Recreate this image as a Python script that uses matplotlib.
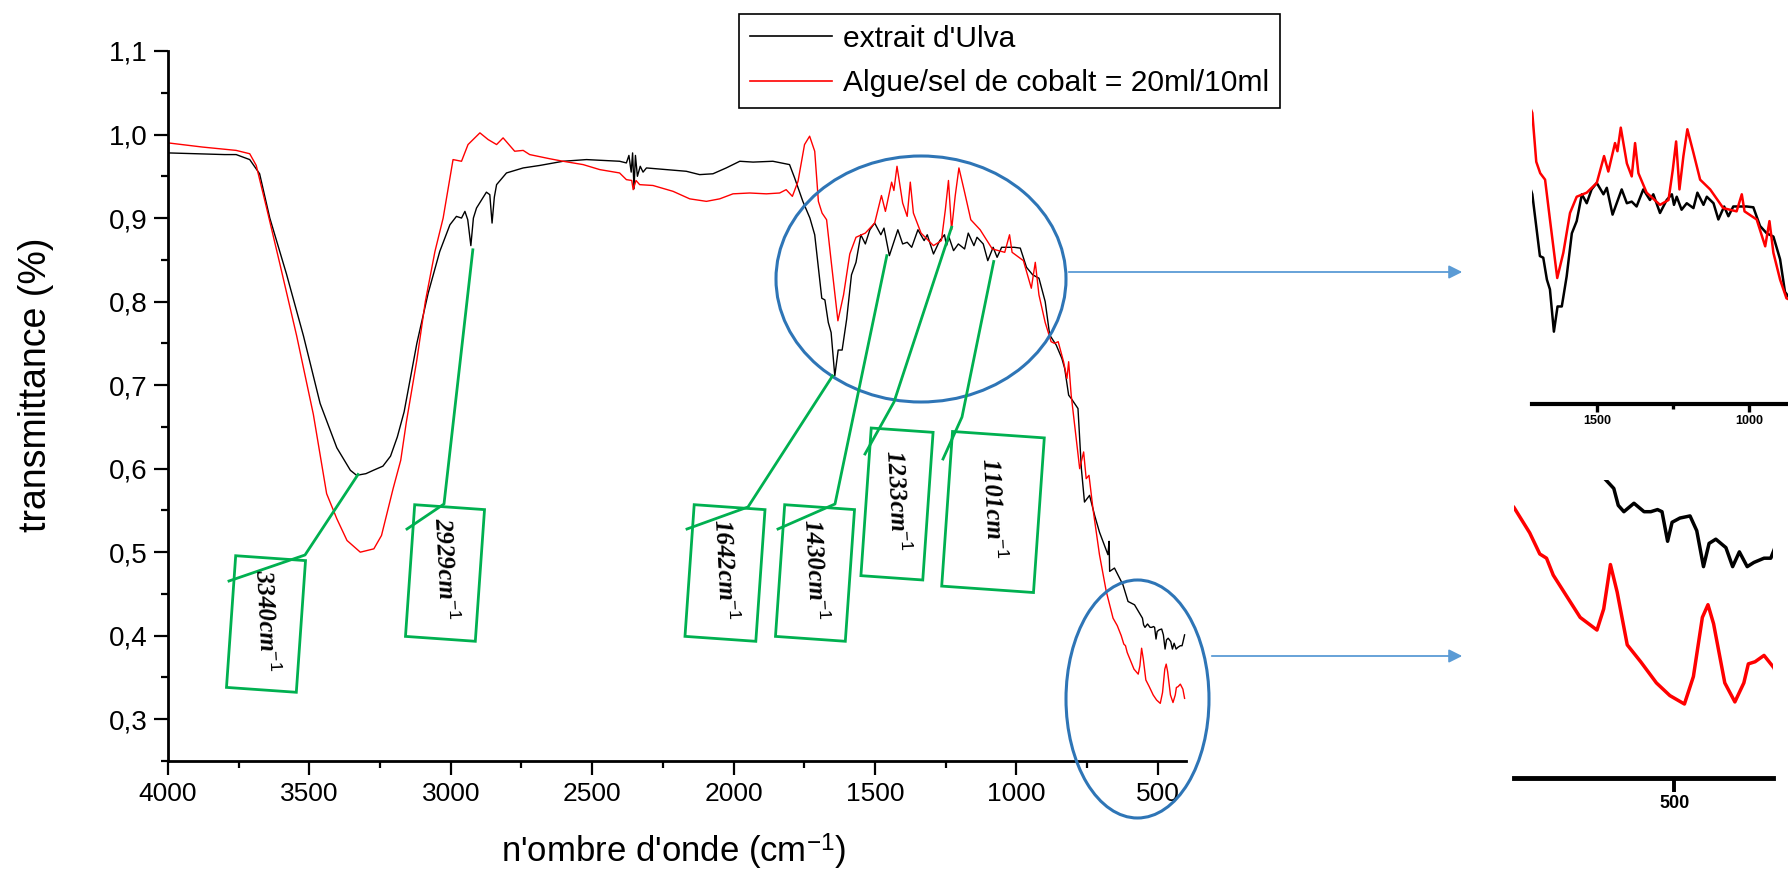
import numpy as np
import matplotlib
matplotlib.use('Agg')
import matplotlib.pyplot as plt
from matplotlib.patches import Rectangle, Ellipse, FancyArrowPatch
from matplotlib.lines import Line2D
from matplotlib.ticker import MultipleLocator, FixedLocator

plt.rcParams['font.family'] = ['Liberation Sans', 'DejaVu Sans']
plt.rcParams['mathtext.fontset'] = 'custom'
plt.rcParams['mathtext.rm'] = 'Liberation Sans'
plt.rcParams['mathtext.it'] = 'Liberation Serif:italic:bold'
plt.rcParams['mathtext.bf'] = 'Liberation Serif:italic:bold'

# extrait d'Ulva (black)
ulva_x = [4000, 3900, 3800, 3759, 3711, 3676, 3640, 3581, 3521, 3462, 3403, 3355, 3333, 3300,
          3274, 3240, 3213, 3189, 3165, 3120, 3080, 3039, 3003, 2980, 2962, 2950, 2940, 2929,
          2920, 2909, 2874, 2862, 2854, 2846, 2838, 2803, 2744, 2685, 2603, 2520, 2403, 2379,
          2370, 2362, 2357, 2352, 2347, 2340, 2330, 2320, 2308, 2238, 2167, 2120, 2073, 2026,
          1978, 1931, 1861, 1802, 1784, 1755, 1730, 1713, 1699, 1688, 1677, 1665, 1655, 1642,
          1630, 1616, 1600, 1583, 1567, 1550, 1534, 1518, 1501, 1479, 1468, 1449, 1419, 1402,
          1386, 1370, 1348, 1326, 1315, 1293, 1271, 1254, 1247, 1238, 1222, 1205, 1183, 1170,
          1150, 1139, 1117, 1101, 1082, 1068, 1052, 1030, 1008, 986, 964, 942, 920, 898, 882,
          859, 839, 829, 815, 806, 790, 782, 770, 759, 741, 723, 706, 676, 672, 670, 653, 623,
          605, 582, 554, 550, 545, 536, 527, 521, 515, 511, 506, 502, 495, 486, 480, 474, 469,
          463, 454, 448, 442, 435, 429, 420, 414, 411, 405]
ulva_y = [0.978, 0.977, 0.976, 0.976, 0.970, 0.953, 0.900, 0.833, 0.759, 0.678, 0.625, 0.598,
          0.592, 0.594, 0.598, 0.603, 0.615, 0.638, 0.668, 0.750, 0.810, 0.860, 0.892, 0.902,
          0.900, 0.908, 0.898, 0.867, 0.900, 0.912, 0.931, 0.928, 0.894, 0.925, 0.940, 0.954,
          0.960, 0.963, 0.968, 0.970, 0.968, 0.966, 0.975, 0.955, 0.978, 0.935, 0.975, 0.950,
          0.962, 0.955, 0.960, 0.958, 0.956, 0.952, 0.953, 0.960, 0.968, 0.967, 0.968, 0.964,
          0.948, 0.920, 0.900, 0.880, 0.837, 0.804, 0.802, 0.775, 0.763, 0.711, 0.742, 0.742,
          0.779, 0.832, 0.847, 0.880, 0.869, 0.886, 0.894, 0.880, 0.888, 0.855, 0.886, 0.869,
          0.871, 0.865, 0.886, 0.873, 0.880, 0.857, 0.873, 0.880, 0.867, 0.877, 0.861, 0.869,
          0.863, 0.882, 0.867, 0.877, 0.869, 0.849, 0.865, 0.853, 0.865, 0.865, 0.865, 0.864,
          0.841, 0.832, 0.828, 0.800, 0.760, 0.748, 0.732, 0.720, 0.688, 0.684, 0.676, 0.672,
          0.600, 0.560, 0.568, 0.544, 0.524, 0.497, 0.513, 0.477, 0.481, 0.461, 0.441, 0.437,
          0.421, 0.413, 0.410, 0.414, 0.410, 0.410, 0.411, 0.410, 0.396, 0.405, 0.407, 0.408,
          0.401, 0.384, 0.395, 0.397, 0.393, 0.384, 0.391, 0.384, 0.386, 0.388, 0.388, 0.392,
          0.401]

# Algue/sel de cobalt = 20ml/10ml (red)
cobalt_x = [4000, 3878, 3759, 3711, 3688, 3652, 3605, 3545, 3486, 3439, 3403, 3367, 3320, 3272,
            3245, 3204, 3177, 3157, 3120, 3090, 3056, 3027, 2992, 2962, 2939, 2897, 2868, 2838,
            2815, 2774, 2744, 2721, 2650, 2603, 2532, 2473, 2403, 2379, 2360, 2355, 2345, 2332,
            2285, 2214, 2155, 2096, 2049, 2002, 1943, 1884, 1837, 1814, 1792, 1772, 1749, 1731,
            1713, 1700, 1687, 1671, 1655, 1631, 1611, 1589, 1567, 1534, 1501, 1477, 1463, 1441,
            1433, 1422, 1402, 1386, 1375, 1364, 1337, 1293, 1265, 1251, 1240, 1229, 1216, 1203,
            1183, 1161, 1128, 1085, 1041, 1024, 1015, 975, 947, 933, 920, 898, 877, 865, 852,
            833, 821, 815, 806, 776, 762, 753, 743, 729, 706, 682, 658, 643, 629, 620, 614, 608,
            596, 584, 569, 563, 557, 551, 542, 530, 516, 504, 491, 483, 475, 470, 465, 455, 446,
            438, 434, 428, 420, 411, 405]
cobalt_y = [0.990, 0.985, 0.981, 0.977, 0.963, 0.913, 0.846, 0.759, 0.665, 0.570, 0.540, 0.514,
            0.500, 0.504, 0.520, 0.576, 0.610, 0.656, 0.730, 0.800, 0.860, 0.900, 0.970, 0.968,
            0.988, 1.002, 0.994, 0.988, 0.996, 0.980, 0.981, 0.976, 0.971, 0.968, 0.964, 0.958,
            0.954, 0.946, 0.945, 0.934, 0.945, 0.940, 0.939, 0.932, 0.923, 0.920, 0.923, 0.929,
            0.930, 0.929, 0.930, 0.934, 0.926, 0.944, 0.988, 0.998, 0.980, 0.920, 0.906, 0.898,
            0.849, 0.777, 0.808, 0.857, 0.877, 0.882, 0.894, 0.927, 0.908, 0.943, 0.933, 0.962,
            0.918, 0.902, 0.943, 0.906, 0.882, 0.867, 0.873, 0.910, 0.945, 0.886, 0.927, 0.960,
            0.931, 0.898, 0.886, 0.863, 0.859, 0.880, 0.859, 0.849, 0.816, 0.847, 0.808, 0.775,
            0.752, 0.750, 0.752, 0.728, 0.708, 0.728, 0.688, 0.600, 0.620, 0.588, 0.592, 0.552,
            0.497, 0.453, 0.421, 0.412, 0.400, 0.390, 0.388, 0.380, 0.370, 0.360, 0.354, 0.364,
            0.385, 0.372, 0.347, 0.339, 0.329, 0.323, 0.319, 0.332, 0.360, 0.366, 0.357, 0.329,
            0.320, 0.329, 0.338, 0.339, 0.342, 0.336, 0.325]

series_labels = ["extrait d'Ulva", "Algue/sel de cobalt = 20ml/10ml"]

y_ticks = [0.3, 0.4, 0.5, 0.6, 0.7, 0.8, 0.9, 1.0, 1.1]
y_tick_labels = ['0,3', '0,4', '0,5', '0,6', '0,7', '0,8', '0,9', '1,0', '1,1']
x_ticks = [4000, 3500, 3000, 2500, 2000, 1500, 1000, 500]

# band labels and the point each leader line points to
band_labels = ['3340', '2929', '1642', '1430', '1233', '1101']
band_tips = [(3328, 0.593), (2922, 0.862), (1650, 0.711), (1458, 0.855), (1229, 0.889), (1080, 0.848)]

# layout of the hand-drawn annotations (figure pixels, y down)
box_centers = [(266, 624), (445, 573), (725, 573), (815, 573), (897, 504), (993, 512)]
box_sizes = [(70, 132), (70, 132), (71, 132), (70, 132), (62, 148), (92, 155)]
leader_starts = [((229, 581), (305, 555)), ((407, 529), (444, 504)), ((687, 529), (748, 507)),
                 ((778, 529), (835, 504)), ((865, 454), (894, 402)), ((943, 459), (962, 417))]

W, H = 1788, 875
fig = plt.figure(figsize=(W / 100, H / 100), dpi=100)

ax = fig.add_axes([168 / W, 1 - 761 / H, (1186 - 168) / W, (761 - 51) / H])
ax.plot(ulva_x, ulva_y, color='black', lw=1.0)
ax.plot(cobalt_x, cobalt_y, color='red', lw=1.0)
ax.set_xlim(4000, 400)
ax.set_ylim(0.25, 1.1)
ax.spines['top'].set_visible(False)
ax.spines['right'].set_visible(False)
for s in ['left', 'bottom']:
    ax.spines[s].set_linewidth(2)
ax.xaxis.set_major_locator(FixedLocator(x_ticks))
ax.xaxis.set_minor_locator(MultipleLocator(250))
ax.yaxis.set_major_locator(FixedLocator(y_ticks))
ax.yaxis.set_minor_locator(MultipleLocator(0.05))
ax.set_yticklabels(y_tick_labels)
ax.tick_params(which='major', direction='out', length=10, width=1.6, pad=5)
ax.tick_params(axis='x', which='major', labelsize=19)
ax.tick_params(axis='y', which='major', labelsize=20)
ax.tick_params(which='minor', direction='out', length=5, width=1.6)
ax.set_xlabel("n'ombre d'onde (cm$^{-1}$)", fontsize=25)
ax.set_ylabel('transmittance (%)', fontsize=27)
ax.xaxis.set_label_coords(0.497, -0.1)
ax.yaxis.set_label_coords(-0.112, 0.53)

handles = [Line2D([], [], color='black', lw=1.2), Line2D([], [], color='red', lw=1.2)]
leg = fig.legend(handles, series_labels, loc='upper left', bbox_to_anchor=(739 / W, 1 - 14 / H),
                 bbox_transform=fig.transFigure, fontsize=21.6, frameon=True, fancybox=False,
                 edgecolor='black', framealpha=1, handlelength=2.75, handletextpad=0.35,
                 borderpad=0.36, labelspacing=0.55, borderaxespad=0)
leg.get_frame().set_linewidth(1.2)

# overlay in figure pixels
ov = fig.add_axes([0, 0, 1, 1])
ov.set_xlim(0, W)
ov.set_ylim(H, 0)
ov.axis('off')

green = '#00B050'
for lab, tip, c, sz, st in zip(band_labels, band_tips, box_centers, box_sizes, leader_starts):
    px, py = ax.transData.transform(tip)
    tip_px = (px, H - py)
    ov.plot([st[0][0], st[1][0], tip_px[0]], [st[0][1], st[1][1], tip_px[1]], color=green, lw=2)
    ov.add_patch(Rectangle((c[0] - sz[0] / 2, c[1] - sz[1] / 2), sz[0], sz[1], angle=4,
                           rotation_point='center', fill=False, ec=green, lw=2))
    ov.text(c[0], c[1] - 4, lab + 'cm$^{\\mathit{-1}}$', rotation=-87, ha='center', va='center',
            family='Liberation Serif', style='italic', weight='bold', fontsize=18,
            rotation_mode='anchor')

blue = '#2E75B6'
ov.add_patch(Ellipse((921, 279), 290, 246, fill=False, ec=blue, lw=2.2))
ov.add_patch(Ellipse((1137.5, 699), 143, 238, fill=False, ec=blue, lw=2.2))
for y0, x0 in [(272, 1066), (656, 1209)]:
    ov.add_patch(FancyArrowPatch((x0, y0), (1465, y0), arrowstyle='-|>', mutation_scale=20,
                                 color='#5B9BD5', lw=1.3))

# zoomed insets
ax1 = fig.add_axes([1532 / W, 1 - 404 / H, (W - 1532) / W, 304 / H])
ax1.plot(ulva_x, ulva_y, color='black', lw=1.8)
ax1.plot(cobalt_x, cobalt_y, color='red', lw=1.8)
ax1.set_xlim(1714, 872)
ax1.set_ylim(0.622, 0.996)
ax2 = fig.add_axes([1514 / W, 1 - 778 / H, 259 / W, 298 / H])
ax2.plot(ulva_x, ulva_y, color='black', lw=2.5)
ax2.plot(cobalt_x, cobalt_y, color='red', lw=2.5)
ax2.set_xlim(643, 412)
ax2.set_ylim(0.284, 0.425)
for a, lw, fs, tl in [(ax1, 3, 9, 6), (ax2, 3.5, 13, 10)]:
    for s in ['top', 'right', 'left']:
        a.spines[s].set_visible(False)
    a.spines['bottom'].set_linewidth(lw)
    a.set_facecolor('none')
    a.set_yticks([])
    a.xaxis.set_major_locator(MultipleLocator(500))
    a.xaxis.set_minor_locator(MultipleLocator(250))
    a.tick_params(which='major', direction='out', length=tl, width=lw * 0.8, labelsize=fs, pad=2)
    a.tick_params(which='minor', direction='out', length=tl * 0.6, width=lw * 0.8)
    for t in a.get_xticklabels():
        t.set_fontweight('bold')

fig.savefig('out.png', dpi=100)
